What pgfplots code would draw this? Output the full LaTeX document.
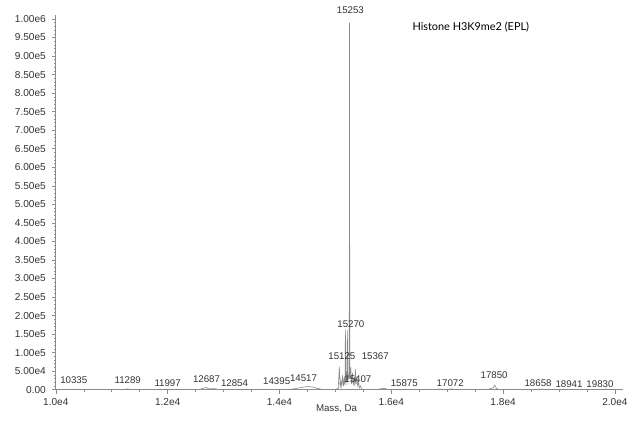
\documentclass[border=0pt]{standalone}
\usepackage{fontspec}
\setmainfont{Liberation Sans}
\newfontfamily\titlefont{Lato}
\usepackage{pgfplots}
\pgfplotsset{compat=1.18}
\definecolor{txt}{HTML}{333333}
\definecolor{axisgray}{HTML}{8C8C8C}
\definecolor{spec}{HTML}{8A8A8A}
\tikzset{peak/.style={font=\fontsize{7.3}{8}\selectfont, text=txt, inner sep=0pt, anchor=center}}

\begin{document}
\begin{tikzpicture}
% page frame (632x422 px at 0.75pt per px)
\path (-42pt,-23.25pt) rectangle (432pt,293.25pt);
\begin{axis}[
    scale only axis,
    width=420.75pt,
    height=279pt,
    xmin=10000, xmax=20000,
    ymin=0, ymax=1000000,
    axis lines=left,
    axis line style={-, axisgray, line width=0.5pt},
    x axis line style={shorten >=-6pt},
    y axis line style={shorten >=-3pt},
    clip=false,
    scaled x ticks=false,
    scaled y ticks=false,
    xtick={10000,12000,14000,16000,18000,20000},
    xticklabels={1.0e4,1.2e4,1.4e4,1.6e4,1.8e4,2.0e4},
    ytick={0,5e4,1e5,1.5e5,2e5,2.5e5,3e5,3.5e5,4e5,4.5e5,5e5,5.5e5,6e5,6.5e5,7e5,7.5e5,8e5,8.5e5,9e5,9.5e5,1e6},
    yticklabels={0.00,5.00e4,1.00e5,1.50e5,2.00e5,2.50e5,3.00e5,3.50e5,4.00e5,4.50e5,5.00e5,5.50e5,6.00e5,6.50e5,7.00e5,7.50e5,8.00e5,8.50e5,9.00e5,9.50e5,1.00e6},
    minor x tick num=3,
    minor y tick num=4,
    tick align=outside,
    major tick length=3pt,
    minor tick length=1.5pt,
    every tick/.style={axisgray, line width=0.4pt},
    tick label style={font=\fontsize{7.6}{8}\selectfont, text=txt},
    yticklabel style={xshift=-1pt},
]

\addplot[spec, line width=0.45pt, mark=none] coordinates {
    (10000,0) (10150,600) (10250,0) (10300,300) (10335,1800) (10370,0) (10700,400) (10800,0)
    (11150,500) (11220,0) (11289,2500) (11330,0) (11700,300) (11800,0) (11997,1500) (12050,0)
    (12550,0) (12620,3000) (12687,6000) (12740,2000) (12800,3000) (12854,2500) (12920,0)
    (13500,400) (13600,0) (13900,0) (14200,1000) (14286,3000) (14395,6000) (14450,7500)
    (14517,8500) (14600,7000) (14700,3000) (14786,0) (15000,0) (15030,3000) (15050,1000)
    (15071,62000) (15085,5000) (15100,25000) (15115,8000) (15130,40000) (15145,10000)
    (15160,30000) (15172,12000) (15179,162000) (15190,20000) (15205,50000) (15210,14000)
    (15214,160000) (15225,25000) (15240,40000) (15248,30000) (15253,990000) (15258,30000)
    (15275,60000) (15290,15000) (15305,45000) (15320,12000) (15340,35000) (15348,10000)
    (15357,56000) (15370,15000) (15385,30000) (15400,10000) (15415,20000) (15430,5000)
    (15450,10000) (15470,2000) (15520,0) (15700,0) (15800,2000) (15875,4000) (15950,0)
    (16500,500) (16600,0) (16900,1500) (17000,0) (17072,2500) (17150,0) (17700,0)
    (17780,3000) (17820,5000) (17850,12000) (17880,3000) (17950,0) (18300,600) (18400,0)
    (18600,0) (18658,2000) (18700,0) (18900,0) (18941,1500) (18980,0) (19400,500) (19500,0)
    (19780,0) (19830,2000) (19880,0) (20000,0)
};

\node[peak] at (axis cs:15268,1024000) {15253};
\node[peak] at (axis cs:15277,177400) {15270};
\node[peak] at (axis cs:15116,91400) {15125};
\node[peak] at (axis cs:15714,91400) {15367};
\node[peak] at (axis cs:15402,29600) {15407};
\node[peak] at (axis cs:10321,26900) {10335};
\node[peak] at (axis cs:11286,26900) {11289};
\node[peak] at (axis cs:12000,18800) {11997};
\node[peak] at (axis cs:12696,29600) {12687};
\node[peak] at (axis cs:13196,18800) {12854};
\node[peak] at (axis cs:13950,24200) {14395};
\node[peak] at (axis cs:14430,32300) {14517};
\node[peak] at (axis cs:16232,18800) {15875};
\node[peak] at (axis cs:17054,18800) {17072};
\node[peak] at (axis cs:17839,40300) {17850};
\node[peak] at (axis cs:18625,18800) {18658};
\node[peak] at (axis cs:19179,16100) {18941};
\node[peak] at (axis cs:19732,16100) {19830};

\node[font=\titlefont\fontsize{8.2}{10}\selectfont, text=black, anchor=west, inner sep=0pt]
    at (axis cs:16375,978500) {Histone H3K9me2 (EPL)};
\node[font=\fontsize{7.3}{8}\selectfont, text=txt, inner sep=0pt]
    at (rel axis cs:0.502,0) [yshift=-14.25pt] {Mass, Da};
\end{axis}
\end{tikzpicture}
\end{document}
